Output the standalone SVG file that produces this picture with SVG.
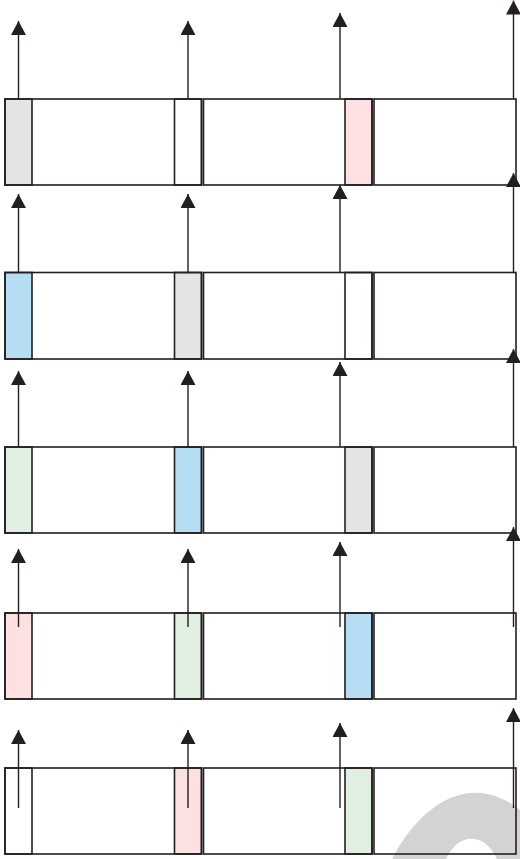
<svg xmlns="http://www.w3.org/2000/svg" width="520" height="859" viewBox="0 0 520 859">
<style>
.bx{fill:none;stroke:#231f20;stroke-width:1.6}
.c{stroke:#231f20;stroke-width:1.6}
.gr{fill:#e3e4e3}.bl{fill:#b5def5}.gn{fill:#e0efe1}.pk{fill:#fde1e2}.wh{fill:#ffffff}
.ar{fill:none;stroke:#231f20;stroke-width:1.4;marker-end:url(#ah)}
</style>
<defs>
<marker id="ah" markerUnits="userSpaceOnUse" markerWidth="14" markerHeight="15" viewBox="0 0 14 15" refX="14" refY="7.5" orient="auto">
<path d="M0,0 L14,7.5 L0,15 Z" fill="#231f20"/>
</marker>
</defs>
<rect width="520" height="859" fill="#ffffff"/>
<path id="watermark" d="M392,859 C420,805 470,770 520,810 L520,859 L497,859 C485,832 458,832 446,859 Z" fill="#d3d3d3"/>

<g id="row1" transform="translate(0,99)">
<rect class="c gr" x="5" y="0" width="27" height="86"/>
<rect class="c wh" x="174.5" y="0" width="27" height="86"/>
<rect class="c pk" x="345" y="0" width="27" height="86"/>
<rect class="bx" x="5" y="0" width="196.5" height="86"/>
<rect class="bx" x="203.5" y="0" width="168.5" height="86"/>
<rect class="bx" x="374" y="0" width="142" height="86"/>
</g>
<g id="row2" transform="translate(0,272.5)">
<rect class="c bl" x="5" y="0" width="27" height="86.5"/>
<rect class="c gr" x="174.5" y="0" width="27" height="86.5"/>
<rect class="c wh" x="345" y="0" width="27" height="86.5"/>
<rect class="bx" x="5" y="0" width="196.5" height="86.5"/>
<rect class="bx" x="203.5" y="0" width="168.5" height="86.5"/>
<rect class="bx" x="374" y="0" width="142" height="86.5"/>
</g>
<g id="row3" transform="translate(0,447)">
<rect class="c gn" x="5" y="0" width="27" height="86"/>
<rect class="c bl" x="174.5" y="0" width="27" height="86"/>
<rect class="c gr" x="345" y="0" width="27" height="86"/>
<rect class="bx" x="5" y="0" width="196.5" height="86"/>
<rect class="bx" x="203.5" y="0" width="168.5" height="86"/>
<rect class="bx" x="374" y="0" width="142" height="86"/>
</g>
<g id="row4" transform="translate(0,613)">
<rect class="c pk" x="5" y="0" width="27" height="86"/>
<rect class="c gn" x="174.5" y="0" width="27" height="86"/>
<rect class="c bl" x="345" y="0" width="27" height="86"/>
<rect class="bx" x="5" y="0" width="196.5" height="86"/>
<rect class="bx" x="203.5" y="0" width="168.5" height="86"/>
<rect class="bx" x="374" y="0" width="142" height="86"/>
</g>
<g id="row5" transform="translate(0,768)">
<rect class="c wh" x="5" y="0" width="27" height="86"/>
<rect class="c pk" x="174.5" y="0" width="27" height="86"/>
<rect class="c gn" x="345" y="0" width="27" height="86"/>
<rect class="bx" x="5" y="0" width="196.5" height="86"/>
<rect class="bx" x="203.5" y="0" width="168.5" height="86"/>
<rect class="bx" x="374" y="0" width="142" height="86"/>
</g>

<g id="connectors">
<line class="ar" x1="18.5" y1="99" x2="18.5" y2="21"/>
<line class="ar" x1="188" y1="99" x2="188" y2="21"/>
<line class="ar" x1="340" y1="99" x2="340" y2="13"/>
<line class="ar" x1="513.5" y1="99" x2="513.5" y2="0.5"/>

<line class="ar" x1="18.5" y1="272.5" x2="18.5" y2="194"/>
<line class="ar" x1="188" y1="272.5" x2="188" y2="194"/>
<line class="ar" x1="340" y1="272.5" x2="340" y2="185"/>
<line class="ar" x1="513.5" y1="272.5" x2="513.5" y2="173"/>

<line class="ar" x1="18.5" y1="447" x2="18.5" y2="371"/>
<line class="ar" x1="188" y1="447" x2="188" y2="371"/>
<line class="ar" x1="340" y1="447" x2="340" y2="362"/>
<line class="ar" x1="513.5" y1="447" x2="513.5" y2="349"/>

<line class="ar" x1="18.5" y1="627" x2="18.5" y2="549"/>
<line class="ar" x1="188" y1="627" x2="188" y2="549"/>
<line class="ar" x1="340" y1="627" x2="340" y2="542"/>
<line class="ar" x1="513.5" y1="627" x2="513.5" y2="527"/>

<line class="ar" x1="18.5" y1="808" x2="18.5" y2="730"/>
<line class="ar" x1="188" y1="808" x2="188" y2="730"/>
<line class="ar" x1="340" y1="808" x2="340" y2="723"/>
<line class="ar" x1="513.5" y1="808" x2="513.5" y2="708"/>
</g>
</svg>
